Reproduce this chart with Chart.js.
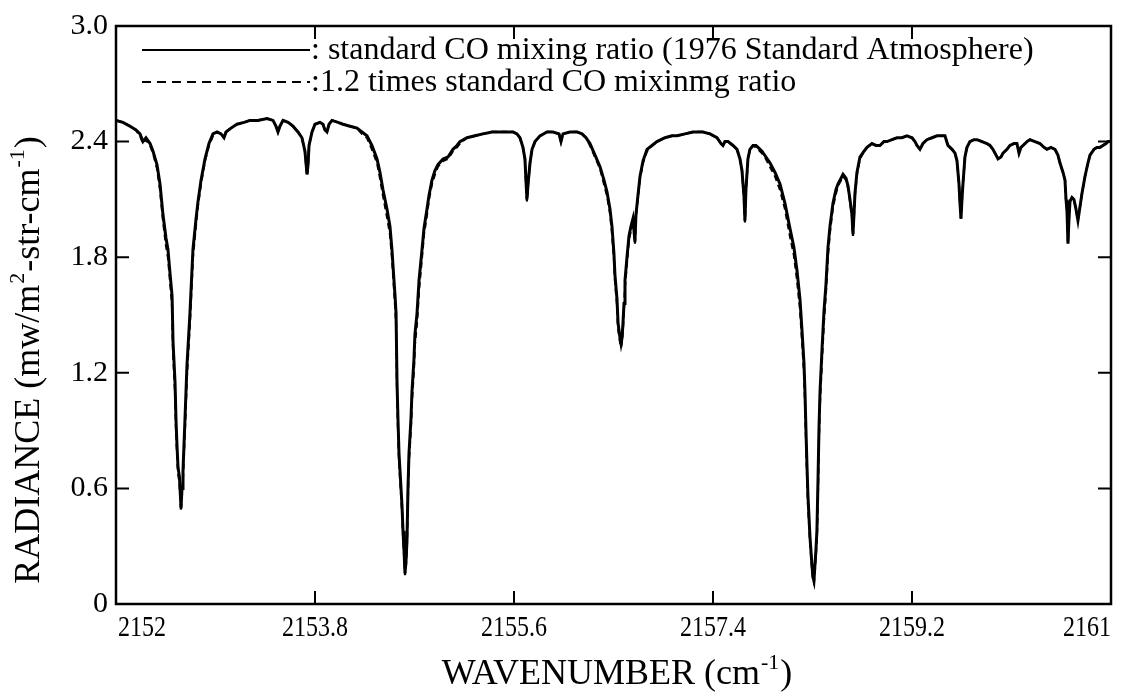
<!DOCTYPE html>
<html><head><meta charset="utf-8">
<script src="https://cdn.jsdelivr.net/npm/chart.js@4/dist/chart.umd.min.js"></script>
<style>html,body{margin:0;padding:0;background:#fff;}canvas{display:block;}</style>
</head><body>
<canvas id="c" width="1130" height="696"></canvas>
<script>
// ---- data ----
const wavenumbers = [
2152.000,2152.063,2152.127,2152.181,2152.217,2152.244,2152.271,2152.308,2152.335,2152.371,
2152.398,2152.425,2152.452,2152.470,2152.488,2152.507,2152.516,2152.534,2152.543,2152.552,
2152.561,2152.574,2152.588,2152.597,2152.606,2152.624,2152.642,2152.669,2152.696,2152.724,
2152.742,2152.769,2152.805,2152.841,2152.877,2152.914,2152.950,2152.977,2152.995,2153.040,
2153.094,2153.158,2153.212,2153.284,2153.366,2153.420,2153.447,2153.465,2153.483,2153.511,
2153.556,2153.601,2153.646,2153.682,2153.709,2153.728,2153.737,2153.746,2153.773,2153.800,
2153.845,2153.872,2153.890,2153.908,2153.927,2153.954,2154.008,2154.053,2154.117,2154.180,
2154.225,2154.270,2154.315,2154.361,2154.388,2154.415,2154.451,2154.478,2154.496,2154.505,
2154.524,2154.533,2154.542,2154.551,2154.560,2154.578,2154.587,2154.596,2154.605,2154.614,
2154.623,2154.632,2154.641,2154.650,2154.668,2154.677,2154.695,2154.704,2154.723,2154.741,
2154.768,2154.786,2154.813,2154.831,2154.858,2154.885,2154.912,2154.958,2155.003,2155.048,
2155.084,2155.111,2155.175,2155.247,2155.319,2155.401,2155.473,2155.537,2155.591,2155.627,
2155.654,2155.681,2155.699,2155.708,2155.717,2155.727,2155.745,2155.763,2155.790,2155.835,
2155.898,2155.953,2156.007,2156.025,2156.043,2156.106,2156.170,2156.215,2156.251,2156.287,
2156.333,2156.378,2156.414,2156.441,2156.468,2156.486,2156.504,2156.513,2156.532,2156.541,
2156.559,2156.568,2156.577,2156.586,2156.595,2156.604,2156.622,2156.640,2156.658,2156.676,
2156.685,2156.694,2156.703,2156.721,2156.740,2156.767,2156.803,2156.848,2156.893,2156.966,
2157.029,2157.074,2157.147,2157.219,2157.309,2157.373,2157.436,2157.472,2157.490,2157.508,
2157.536,2157.581,2157.617,2157.644,2157.662,2157.680,2157.689,2157.698,2157.716,2157.734,
2157.762,2157.789,2157.807,2157.843,2157.879,2157.915,2157.961,2158.006,2158.051,2158.096,
2158.132,2158.160,2158.187,2158.205,2158.223,2158.232,2158.241,2158.250,2158.259,2158.277,
2158.295,2158.304,2158.313,2158.322,2158.331,2158.340,2158.350,2158.359,2158.368,2158.386,
2158.404,2158.422,2158.440,2158.458,2158.485,2158.512,2158.530,2158.558,2158.576,2158.603,
2158.621,2158.639,2158.657,2158.666,2158.675,2158.684,2158.702,2158.729,2158.766,2158.793,
2158.838,2158.874,2158.910,2158.946,2158.974,2159.019,2159.064,2159.109,2159.155,2159.200,
2159.227,2159.245,2159.272,2159.299,2159.335,2159.381,2159.426,2159.462,2159.498,2159.525,
2159.562,2159.589,2159.607,2159.625,2159.634,2159.643,2159.652,2159.661,2159.679,2159.697,
2159.724,2159.761,2159.788,2159.833,2159.878,2159.905,2159.932,2159.960,2159.978,2160.005,
2160.023,2160.059,2160.086,2160.122,2160.149,2160.168,2160.186,2160.204,2160.240,2160.267,
2160.312,2160.357,2160.394,2160.421,2160.457,2160.493,2160.520,2160.538,2160.566,2160.584,
2160.593,2160.602,2160.611,2160.620,2160.629,2160.647,2160.665,2160.683,2160.701,2160.719,
2160.737,2160.765,2160.792,2160.810,2160.846,2160.873,2160.900,2160.927,2160.955,2160.973,2161.000
];
const radianceStandard = [
2.51,2.50,2.48,2.46,2.44,2.40,2.42,2.39,2.35,2.28,
2.18,2.02,1.90,1.84,1.72,1.60,1.36,1.15,0.95,0.82,
0.71,0.66,0.50,0.60,0.69,0.96,1.24,1.51,1.84,2.00,
2.09,2.20,2.31,2.39,2.44,2.45,2.44,2.42,2.45,2.47,
2.49,2.50,2.51,2.51,2.52,2.51,2.48,2.45,2.48,2.51,
2.50,2.48,2.45,2.42,2.35,2.23,2.28,2.38,2.45,2.49,
2.50,2.49,2.46,2.45,2.49,2.51,2.50,2.49,2.48,2.47,
2.45,2.43,2.38,2.31,2.24,2.15,2.05,1.96,1.84,1.76,
1.60,1.51,1.15,0.95,0.78,0.60,0.51,0.38,0.28,0.16,
0.22,0.33,0.60,0.78,0.96,1.10,1.27,1.40,1.51,1.68,
1.84,1.95,2.05,2.12,2.20,2.25,2.28,2.31,2.32,2.36,
2.38,2.40,2.42,2.43,2.44,2.45,2.45,2.45,2.45,2.44,
2.42,2.37,2.31,2.20,2.10,2.18,2.29,2.36,2.40,2.43,
2.45,2.45,2.44,2.40,2.44,2.45,2.45,2.44,2.42,2.39,
2.33,2.27,2.20,2.14,2.05,1.96,1.82,1.71,1.58,1.46,
1.38,1.35,1.38,1.46,1.56,1.68,1.80,1.91,1.96,2.00,
1.94,1.88,2.02,2.12,2.22,2.30,2.36,2.38,2.40,2.42,
2.43,2.43,2.44,2.45,2.45,2.44,2.42,2.39,2.38,2.40,
2.40,2.38,2.36,2.31,2.25,2.12,1.99,2.15,2.31,2.36,
2.38,2.38,2.37,2.35,2.32,2.29,2.24,2.18,2.08,1.95,
1.85,1.73,1.58,1.42,1.25,1.10,0.90,0.72,0.56,0.35,
0.20,0.14,0.12,0.20,0.28,0.38,0.65,0.92,1.10,1.32,
1.52,1.66,1.85,1.96,2.08,2.15,2.18,2.21,2.23,2.21,
2.17,2.10,2.02,1.92,2.02,2.13,2.24,2.32,2.35,2.37,
2.39,2.38,2.38,2.40,2.40,2.41,2.42,2.42,2.43,2.42,
2.40,2.38,2.36,2.39,2.41,2.42,2.43,2.43,2.43,2.38,
2.36,2.34,2.30,2.18,2.08,2.00,2.10,2.18,2.32,2.37,
2.40,2.41,2.41,2.40,2.39,2.38,2.36,2.33,2.31,2.32,
2.34,2.36,2.38,2.39,2.39,2.34,2.37,2.38,2.40,2.41,
2.40,2.39,2.37,2.36,2.37,2.36,2.33,2.29,2.24,2.20,
2.10,2.04,1.87,2.00,2.09,2.11,2.10,2.05,1.99,2.06,
2.13,2.22,2.29,2.33,2.36,2.37,2.37,2.38,2.39,2.40,2.40
];
const radianceCO12 = [
2.51,2.50,2.48,2.46,2.43,2.39,2.41,2.38,2.34,2.26,
2.15,1.99,1.86,1.80,1.68,1.55,1.31,1.10,0.90,0.78,
0.68,0.63,0.48,0.57,0.65,0.91,1.19,1.46,1.80,1.97,
2.07,2.18,2.30,2.38,2.43,2.45,2.44,2.42,2.45,2.47,
2.49,2.50,2.51,2.51,2.52,2.51,2.48,2.45,2.48,2.51,
2.50,2.48,2.45,2.42,2.35,2.22,2.27,2.38,2.45,2.49,
2.50,2.49,2.46,2.45,2.49,2.51,2.50,2.49,2.48,2.47,
2.44,2.42,2.36,2.29,2.21,2.12,2.01,1.92,1.80,1.72,
1.55,1.46,1.10,0.90,0.74,0.57,0.48,0.36,0.26,0.15,
0.20,0.31,0.57,0.74,0.92,1.05,1.22,1.35,1.46,1.63,
1.80,1.92,2.02,2.10,2.18,2.23,2.27,2.30,2.31,2.35,
2.37,2.39,2.42,2.43,2.44,2.45,2.45,2.45,2.45,2.44,
2.42,2.37,2.31,2.19,2.09,2.17,2.29,2.36,2.40,2.43,
2.45,2.45,2.44,2.40,2.44,2.45,2.45,2.44,2.42,2.38,
2.32,2.26,2.18,2.12,2.03,1.93,1.79,1.68,1.55,1.43,
1.36,1.33,1.36,1.43,1.53,1.65,1.77,1.89,1.94,1.99,
1.93,1.87,2.01,2.11,2.21,2.29,2.35,2.38,2.40,2.42,
2.43,2.43,2.44,2.45,2.45,2.44,2.42,2.39,2.38,2.40,
2.40,2.38,2.36,2.31,2.25,2.11,1.98,2.14,2.31,2.36,
2.38,2.37,2.36,2.34,2.31,2.27,2.22,2.15,2.05,1.91,
1.81,1.68,1.53,1.37,1.20,1.05,0.85,0.68,0.52,0.33,
0.19,0.13,0.11,0.18,0.26,0.35,0.60,0.87,1.05,1.27,
1.47,1.62,1.81,1.93,2.06,2.13,2.17,2.20,2.22,2.20,
2.16,2.09,2.01,1.91,2.01,2.12,2.23,2.31,2.35,2.37,
2.39,2.38,2.38,2.40,2.40,2.41,2.42,2.42,2.43,2.42,
2.40,2.38,2.36,2.39,2.41,2.42,2.43,2.43,2.43,2.38,
2.36,2.34,2.30,2.18,2.08,2.00,2.10,2.18,2.32,2.37,
2.40,2.41,2.41,2.40,2.39,2.38,2.36,2.33,2.31,2.32,
2.34,2.36,2.38,2.39,2.39,2.34,2.37,2.38,2.40,2.41,
2.40,2.39,2.37,2.36,2.37,2.36,2.33,2.29,2.24,2.20,
2.10,2.04,1.87,2.00,2.09,2.11,2.10,2.05,1.99,2.06,
2.13,2.22,2.29,2.33,2.36,2.37,2.37,2.38,2.39,2.40,2.40
];
const xTickValues = [2152, 2153.8, 2155.6, 2157.4, 2159.2, 2161];
const xTickLabels = ['2152', '2153.8', '2155.6', '2157.4', '2159.2', '2161'];
const yTickValues = [0, 0.6, 1.2, 1.8, 2.4, 3.0];
const yTickLabels = ['0', '0.6', '1.2', '1.8', '2.4', '3.0'];
const seriesLabels = [': standard CO mixing ratio (1976 Standard Atmosphere)', ':1.2 times standard CO mixinmg ratio'];
const xTitleParts = [['WAVENUMBER (cm', false], ['-1', true], [')', false]];
const yTitleParts = [['RADIANCE (mw/m', false], ['2', true], ['-str-cm', false], ['-1', true], [')', false]];

// ---- rendering ----
const SERIF = '"Liberation Serif", "Times New Roman", serif';
function drawRich(ctx, parts, size, cx, cy) {
  const supSize = Math.round(size * 0.62);
  let total = 0;
  const widths = parts.map(([t, sup]) => {
    ctx.font = (sup ? supSize : size) + 'px ' + SERIF;
    const w = ctx.measureText(t).width + (sup ? 2 : 0);
    total += w; return w;
  });
  let x = cx - total / 2;
  ctx.textBaseline = 'alphabetic';
  ctx.textAlign = 'left';
  parts.forEach(([t, sup], i) => {
    ctx.font = (sup ? supSize : size) + 'px ' + SERIF;
    ctx.fillText(t, x + (sup ? 1 : 0), cy + size * 0.34 - (sup ? size * 0.42 : 0));
    x += widths[i];
  });
}

const decor = {
  id: 'decor',
  afterDraw(chart) {
    const { ctx, chartArea: a, scales } = chart;
    ctx.save();
    ctx.strokeStyle = '#000';
    ctx.fillStyle = '#000';
    ctx.lineWidth = 2.5;
    ctx.strokeRect(a.left, a.top, a.right - a.left, a.bottom - a.top);
    ctx.lineWidth = 2;
    const tk = 13;
    xTickValues.slice(1, -1).forEach(v => {
      const px = scales.x.getPixelForValue(v);
      ctx.beginPath();
      ctx.moveTo(px, a.bottom); ctx.lineTo(px, a.bottom - tk);
      ctx.moveTo(px, a.top); ctx.lineTo(px, a.top + tk);
      ctx.stroke();
    });
    yTickValues.slice(1, -1).forEach(v => {
      const py = scales.y.getPixelForValue(v);
      ctx.beginPath();
      ctx.moveTo(a.left, py); ctx.lineTo(a.left + tk, py);
      ctx.moveTo(a.right, py); ctx.lineTo(a.right - tk, py);
      ctx.stroke();
    });
    // x tick labels (tall, narrow lettering as in the scan)
    ctx.font = '30px ' + SERIF;
    ctx.textBaseline = 'middle';
    xTickValues.forEach((v, i) => {
      const px = scales.x.getPixelForValue(v);
      const align = i === 0 ? 'left' : (i === xTickValues.length - 1 ? 'right' : 'center');
      ctx.save();
      ctx.translate(px + (i === 0 ? 2 : 0), a.bottom + 24);
      ctx.scale(0.8, 1);
      ctx.textAlign = align;
      ctx.fillText(xTickLabels[i], 0, 0);
      ctx.restore();
    });
    // legend
    const lx0 = 142, lx1 = 310;
    const ly = [50, 82];
    ctx.lineWidth = 2;
    ctx.setLineDash([]);
    ctx.beginPath(); ctx.moveTo(lx0, ly[0]); ctx.lineTo(lx1, ly[0]); ctx.stroke();
    ctx.setLineDash([9, 6]);
    ctx.beginPath(); ctx.moveTo(lx0, ly[1]); ctx.lineTo(lx1, ly[1]); ctx.stroke();
    ctx.setLineDash([]);
    ctx.font = '32px ' + SERIF;
    ctx.textAlign = 'left';
    ctx.textBaseline = 'middle';
    ctx.fillText(seriesLabels[0], lx1 + 1, ly[0] + 1);
    ctx.fillText(seriesLabels[1], lx1 + 1, ly[1] + 1);
    // axis titles
    drawRich(ctx, xTitleParts, 36, 617, 672);
    ctx.save();
    ctx.translate(27, 360);
    ctx.rotate(-Math.PI / 2);
    drawRich(ctx, yTitleParts, 36, 0, 0);
    ctx.restore();
    ctx.restore();
  }
};

new Chart(document.getElementById('c'), {
  type: 'line',
  data: {
    datasets: [
      {
        label: seriesLabels[0],
        data: wavenumbers.map((w, i) => ({ x: w, y: radianceStandard[i] })),
        borderColor: '#000', borderWidth: 3, pointRadius: 0, tension: 0, fill: false
      },
      {
        label: seriesLabels[1],
        data: wavenumbers.map((w, i) => ({ x: w, y: radianceCO12[i] })),
        borderColor: '#000', borderWidth: 2.2, borderDash: [6, 4], pointRadius: 0, tension: 0, fill: false
      }
    ]
  },
  options: {
    responsive: false,
    animation: false,
    devicePixelRatio: 1,
    layout: { padding: { top: 11, right: 19, left: 0, bottom: 0 } },
    plugins: { legend: { display: false }, tooltip: { enabled: false } },
    scales: {
      x: {
        type: 'linear', min: 2152, max: 2161,
        afterBuildTicks: s => { s.ticks = xTickValues.map(v => ({ value: v })); },
        afterFit: s => { s.height = 92; },
        grid: { display: false, drawTicks: false },
        border: { display: false },
        ticks: { display: false }
      },
      y: {
        type: 'linear', min: 0, max: 3.0,
        afterBuildTicks: s => { s.ticks = yTickValues.map(v => ({ value: v })); },
        afterFit: s => { s.width = 116; },
        grid: { display: false, drawTicks: false },
        border: { display: false },
        ticks: {
          padding: 8, color: '#000',
          font: { family: SERIF, size: 30 },
          callback: (v, i) => yTickLabels[i]
        }
      }
    }
  },
  plugins: [decor]
});
</script>
</body></html>
